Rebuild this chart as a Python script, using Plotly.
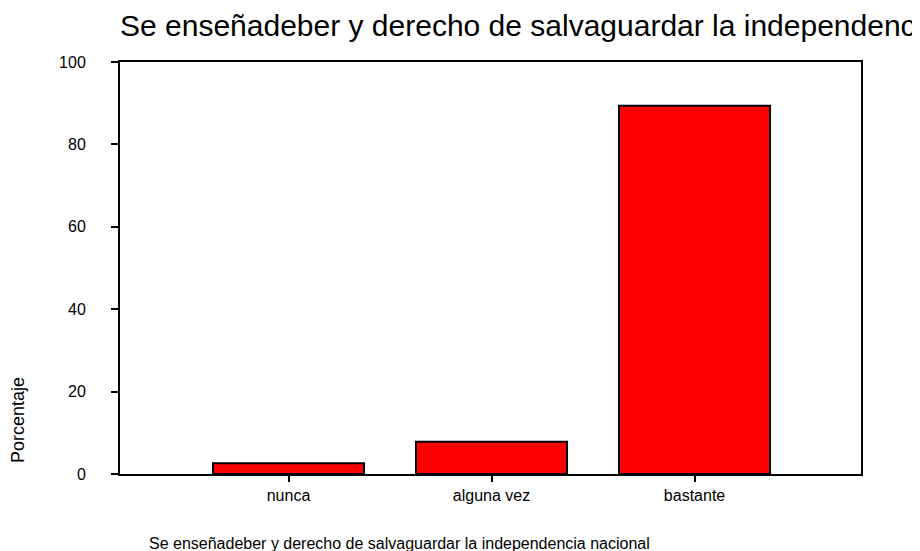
import plotly.graph_objects as go

categories = ["nunca", "alguna vez", "bastante"]
values = [2.6, 7.8, 89.4]
y_ticks = [0, 20, 40, 60, 80, 100]

title_text = "Se enseñadeber y derecho de salvaguardar la independencia nacional"

fig = go.Figure()
fig.add_trace(go.Bar(
    x=categories, y=values,
    marker=dict(color="#ff0000", line=dict(color="#000000", width=2)),
    width=0.744,
    hoverinfo="x+y",
))

fig.update_layout(
    width=912, height=543,
    margin=dict(l=112, r=59, t=54, b=77),
    paper_bgcolor="white", plot_bgcolor="white",
    font=dict(family="Liberation Sans, Arial, sans-serif", color="#000000", size=16),
    showlegend=False,
    title=dict(text=title_text, x=0, xref="paper", xanchor="left",
               y=1 - 17 / 543, yref="container", yanchor="middle",
               font=dict(size=30, color="#000000")),
    xaxis=dict(
        range=[-0.83, 2.82], showgrid=False, zeroline=False,
        showline=True, linecolor="#000000", linewidth=2, mirror=True,
        ticks="outside", ticklen=6, tickwidth=2, tickcolor="#000000",
        tickfont=dict(size=16),
    ),
    yaxis=dict(
        range=[0, 100], tickvals=y_ticks, showgrid=False, zeroline=False,
        showline=True, linecolor="#000000", linewidth=2, mirror=True,
        ticks="outside", ticklen=7, tickwidth=2, tickcolor="#000000",
        tickfont=dict(size=16), ticklabelstandoff=22,
    ),
    annotations=[
        dict(text=title_text, xref="paper", yref="paper", x=(139 - 112) / 741, y=-0.1675,
             xanchor="left", yanchor="middle", showarrow=False, font=dict(size=16)),
        dict(text="Porcentaje", xref="paper", yref="paper", x=-(112 - 10) / 741, y=0.131,
             xanchor="center", yanchor="middle", textangle=-90, showarrow=False,
             font=dict(size=18)),
    ],
)

fig.write_html("out.html")
